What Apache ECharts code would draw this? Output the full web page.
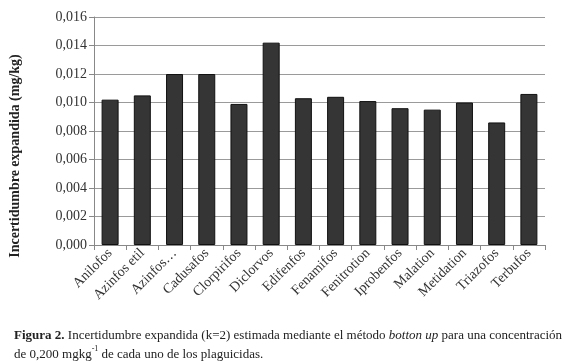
<!DOCTYPE html>
<html><head><meta charset="utf-8">
<script src="https://cdn.jsdelivr.net/npm/echarts@6/dist/echarts.min.js"></script>
<style>html,body{margin:0;padding:0;background:#fff}#c{width:575px;height:361px}</style>
</head><body><div id="c"></div>
<script>
var categories = ['Anilofos','Azinfos etil','Azinfos…','Cadusafos','Clorpirifos','Diclorvos','Edifenfos','Fenamifos','Fenitrotion','Iprobenfos','Malation','Metidation','Triazofos','Terbufos'];
var values = [0.0102,0.0105,0.0120,0.0120,0.0099,0.0142,0.0103,0.0104,0.0101,0.0096,0.0095,0.0100,0.0086,0.0106];
var yTicks = [0,0.002,0.004,0.006,0.008,0.010,0.012,0.014,0.016];
var yName = 'Incertidumbre expandida (mg/kg)';
var serif = '"Liberation Serif", "DejaVu Serif", serif';
var chart = echarts.init(document.getElementById('c'));
chart.setOption({
  animation:false,
  backgroundColor:'#fff',
  title:{
    left:9, top:321,
    text:'{b|Figura 2.} {r|Incertidumbre expandida (k=2) estimada mediante el método }{i|botton up}{r| para una concentración}\n{r|de 0,200 mgkg}{s|-1}{r| de cada uno de los plaguicidas.}',
    textStyle:{
      fontFamily:serif, fontSize:13, fontWeight:'normal', color:'#222', lineHeight:19,
      rich:{
        b:{fontFamily:serif,fontSize:13,fontWeight:'bold',color:'#222'},
        r:{fontFamily:serif,fontSize:13,fontWeight:'normal',color:'#222'},
        i:{fontFamily:serif,fontSize:13,fontWeight:'normal',fontStyle:'italic',color:'#222'},
        s:{fontFamily:serif,fontSize:8,fontWeight:'normal',color:'#222',verticalAlign:'top',padding:[0,0,7,0]}
      }
    }
  },
  grid:{left:91,right:30,top:17,bottom:116,containLabel:false},
  xAxis:{
    type:'category', data:categories,
    axisLine:{show:true,lineStyle:{color:'#888'}},
    axisTick:{show:true,alignWithLabel:false,length:5,lineStyle:{color:'#888'}},
    axisLabel:{rotate:45,interval:0,fontFamily:serif,fontSize:14,color:'#333',margin:6}
  },
  yAxis:{
    type:'value', min:0, max:0.016, interval:0.002,
    name:yName, nameLocation:'middle', nameGap:72, nameRotate:90,
    nameTextStyle:{fontFamily:serif,fontSize:14,fontWeight:'bold',color:'#222',padding:[0,50,0,0]},
    axisLine:{show:true,lineStyle:{color:'#888'}},
    axisTick:{show:true,length:5,lineStyle:{color:'#888'}},
    axisLabel:{fontFamily:serif,fontSize:14,color:'#333',margin:7,
      formatter:function(v){return v.toFixed(3).replace('.',',');}},
    splitLine:{show:true,lineStyle:{color:'#9a9a9a',width:1}}
  },
  series:[{
    type:'bar', data:values, barWidth:17,
    itemStyle:{color:'#353535',borderColor:'#111',borderWidth:1}
  }]
});
</script></body></html>
